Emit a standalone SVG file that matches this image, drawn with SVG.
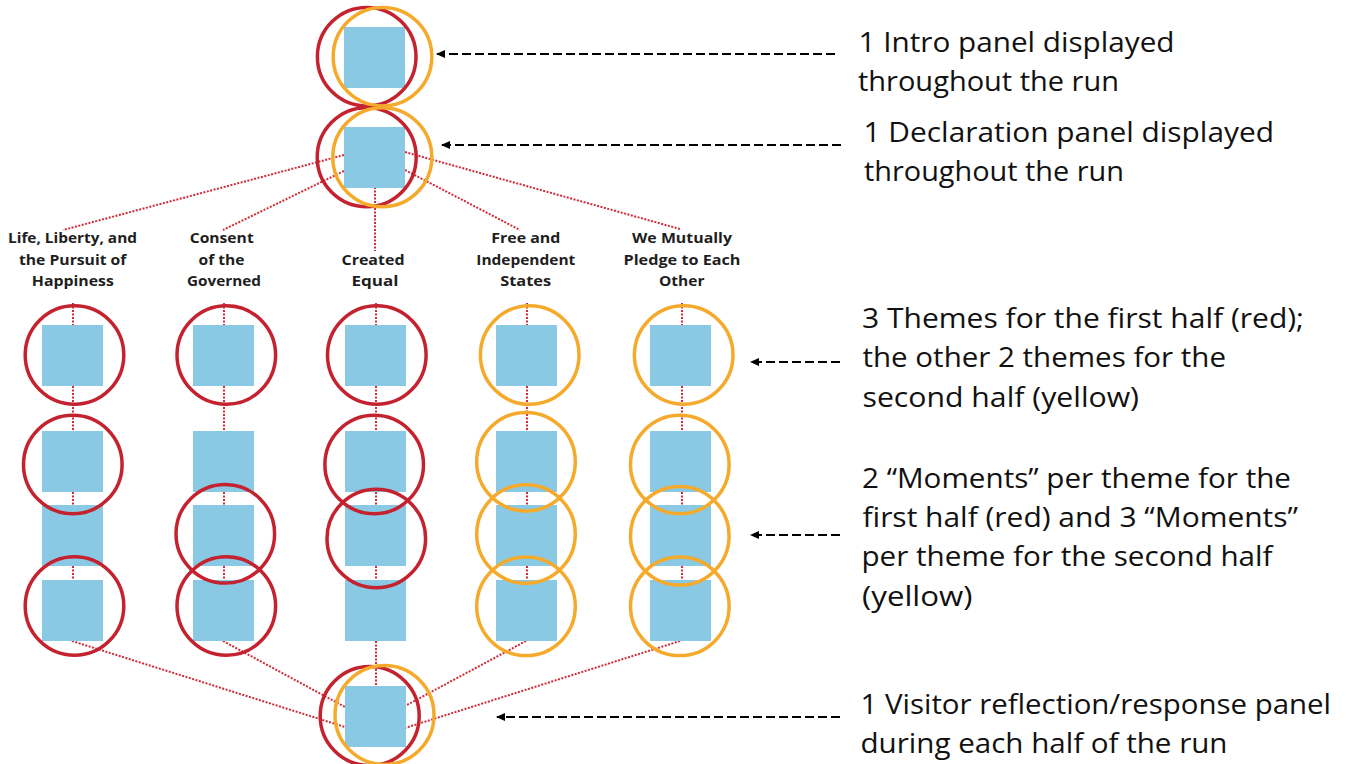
<svg xmlns="http://www.w3.org/2000/svg" width="1357" height="764" viewBox="0 0 1357 764">
<style>
.bg{fill:#ffffff}
.sq{fill:#89c9e3}
.cr{fill:none;stroke:#c5222f;stroke-width:3.5}
.co{fill:none;stroke:#f5aa2c;stroke-width:3.5}
.dot{fill:none;stroke:#d22a36;stroke-width:2;stroke-dasharray:2 1.5}
.arr{fill:none;stroke:#000;stroke-width:2;stroke-dasharray:9 4}
.lbl{font-family:"Open Sans","Liberation Sans",sans-serif;font-weight:700;font-size:15px;fill:#1e1e1e;text-anchor:middle}
.ann{font-family:"Open Sans","Liberation Sans",sans-serif;font-size:27.5px;fill:#111}
</style>
<defs>
<marker id="ah" markerUnits="userSpaceOnUse" markerWidth="10" markerHeight="10" refX="8" refY="5" orient="auto">
<path d="M0,1 L9,5 L0,9 z" fill="#000"/>
</marker>
</defs>
<rect class="bg" x="0" y="0" width="1357" height="764"/>

<g id="connectors">
<line class="dot" x1="344" y1="155" x2="63" y2="230"/>
<line class="dot" x1="344" y1="171" x2="223" y2="230"/>
<line class="dot" x1="405" y1="152" x2="680" y2="229"/>
<line class="dot" x1="405" y1="170" x2="520" y2="230"/>
<line class="dot" x1="375" y1="187" x2="375" y2="251"/>
<line class="dot" x1="73" y1="303" x2="73" y2="325"/>
<line class="dot" x1="73" y1="386" x2="73" y2="431"/>
<line class="dot" x1="73" y1="492" x2="73" y2="505"/>
<line class="dot" x1="73" y1="566" x2="73" y2="580"/>
<line class="dot" x1="224" y1="303" x2="224" y2="325"/>
<line class="dot" x1="224" y1="386" x2="224" y2="431"/>
<line class="dot" x1="224" y1="492" x2="224" y2="505"/>
<line class="dot" x1="224" y1="566" x2="224" y2="580"/>
<line class="dot" x1="376" y1="303" x2="376" y2="325"/>
<line class="dot" x1="376" y1="386" x2="376" y2="431"/>
<line class="dot" x1="376" y1="492" x2="376" y2="505"/>
<line class="dot" x1="376" y1="566" x2="376" y2="580"/>
<line class="dot" x1="376" y1="641" x2="376" y2="686"/>
<line class="dot" x1="527" y1="303" x2="527" y2="325"/>
<line class="dot" x1="527" y1="386" x2="527" y2="431"/>
<line class="dot" x1="527" y1="492" x2="527" y2="505"/>
<line class="dot" x1="527" y1="566" x2="527" y2="580"/>
<line class="dot" x1="682" y1="303" x2="682" y2="325"/>
<line class="dot" x1="682" y1="386" x2="682" y2="431"/>
<line class="dot" x1="682" y1="492" x2="682" y2="505"/>
<line class="dot" x1="682" y1="566" x2="682" y2="580"/>
<line class="dot" x1="72" y1="641" x2="345" y2="727"/>
<line class="dot" x1="223" y1="641" x2="345" y2="707"/>
<line class="dot" x1="526" y1="641" x2="405" y2="706"/>
<line class="dot" x1="680" y1="641" x2="405" y2="728"/>
<line class="arr" x1="835" y1="54" x2="437" y2="54" marker-end="url(#ah)"/>
<line class="arr" x1="841" y1="145" x2="442" y2="145" marker-end="url(#ah)"/>
<line class="arr" x1="840" y1="362" x2="751" y2="362" marker-end="url(#ah)"/>
<line class="arr" x1="840" y1="535" x2="751" y2="535" marker-end="url(#ah)"/>
<line class="arr" x1="840" y1="717" x2="497" y2="717" marker-end="url(#ah)"/>
</g>

<g id="intro-panel">
<rect class="sq" x="344" y="27" width="61" height="61"/>
<circle class="cr" cx="366.7" cy="56.7" r="49.3"/>
<circle class="co" cx="382.5" cy="56.7" r="49.3"/>
</g>

<g id="declaration-panel">
<rect class="sq" x="344" y="127" width="61" height="61"/>
<circle class="cr" cx="366.7" cy="157.3" r="49.5"/>
<circle class="co" cx="382.3" cy="157.3" r="49.5"/>
</g>

<g id="theme-labels">
<text class="lbl" x="72.5" y="243" textLength="129" lengthAdjust="spacingAndGlyphs">Life, Liberty, and</text>
<text class="lbl" x="72.7" y="264.5" textLength="107.5" lengthAdjust="spacingAndGlyphs">the Pursuit of</text>
<text class="lbl" x="72.8" y="286" textLength="82" lengthAdjust="spacingAndGlyphs">Happiness</text>
<text class="lbl" x="221.7" y="243" textLength="64" lengthAdjust="spacingAndGlyphs">Consent</text>
<text class="lbl" x="221.5" y="264.5" textLength="46" lengthAdjust="spacingAndGlyphs">of the</text>
<text class="lbl" x="224" y="286" textLength="74" lengthAdjust="spacingAndGlyphs">Governed</text>
<text class="lbl" x="373" y="264.5" textLength="63" lengthAdjust="spacingAndGlyphs">Created</text>
<text class="lbl" x="375" y="286" textLength="47" lengthAdjust="spacingAndGlyphs">Equal</text>
<text class="lbl" x="525.8" y="243" textLength="69" lengthAdjust="spacingAndGlyphs">Free and</text>
<text class="lbl" x="525.8" y="264.5" textLength="99" lengthAdjust="spacingAndGlyphs">Independent</text>
<text class="lbl" x="525.7" y="286" textLength="51" lengthAdjust="spacingAndGlyphs">States</text>
<text class="lbl" x="682" y="243" textLength="100" lengthAdjust="spacingAndGlyphs">We Mutually</text>
<text class="lbl" x="682" y="264.5" textLength="117" lengthAdjust="spacingAndGlyphs">Pledge to Each</text>
<text class="lbl" x="681.7" y="286" textLength="45.5" lengthAdjust="spacingAndGlyphs">Other</text>
</g>

<g id="theme-life">
<rect class="sq" x="42" y="325" width="61" height="61"/>
<rect class="sq" x="42" y="431" width="61" height="61"/>
<rect class="sq" x="42" y="505" width="61" height="61"/>
<rect class="sq" x="42" y="580" width="61" height="61"/>
<circle class="cr" cx="74.5" cy="355" r="49.3"/>
<circle class="cr" cx="72.8" cy="464.5" r="49.3"/>
<circle class="cr" cx="74.5" cy="606" r="49.3"/>
</g>

<g id="theme-consent">
<rect class="sq" x="193" y="325" width="61" height="61"/>
<rect class="sq" x="193" y="431" width="61" height="61"/>
<rect class="sq" x="193" y="505" width="61" height="61"/>
<rect class="sq" x="193" y="580" width="61" height="61"/>
<circle class="cr" cx="226.3" cy="355" r="49.3"/>
<circle class="cr" cx="225.3" cy="533.8" r="49.3"/>
<circle class="cr" cx="226.3" cy="606" r="49.3"/>
</g>

<g id="theme-created">
<rect class="sq" x="345" y="325" width="61" height="61"/>
<rect class="sq" x="345" y="431" width="61" height="61"/>
<rect class="sq" x="345" y="505" width="61" height="61"/>
<rect class="sq" x="345" y="580" width="61" height="61"/>
<circle class="cr" cx="376.8" cy="355" r="49.3"/>
<circle class="cr" cx="374.2" cy="464.5" r="49.3"/>
<circle class="cr" cx="376.3" cy="538.5" r="49.3"/>
</g>

<g id="theme-free">
<rect class="sq" x="496" y="325" width="61" height="61"/>
<rect class="sq" x="496" y="431" width="61" height="61"/>
<rect class="sq" x="496" y="505" width="61" height="61"/>
<rect class="sq" x="496" y="580" width="61" height="61"/>
<circle class="co" cx="529.7" cy="355" r="49.3"/>
<circle class="co" cx="526" cy="461.7" r="49.3"/>
<circle class="co" cx="526" cy="534" r="49.3"/>
<circle class="co" cx="526" cy="606.3" r="49.3"/>
</g>

<g id="theme-pledge">
<rect class="sq" x="650" y="325" width="61" height="61"/>
<rect class="sq" x="650" y="431" width="61" height="61"/>
<rect class="sq" x="650" y="505" width="61" height="61"/>
<rect class="sq" x="650" y="580" width="61" height="61"/>
<circle class="co" cx="683.7" cy="355" r="49.3"/>
<circle class="co" cx="679.8" cy="464.5" r="49.3"/>
<circle class="co" cx="679.8" cy="535.8" r="49.3"/>
<circle class="co" cx="679.8" cy="606.3" r="49.3"/>
</g>

<g id="reflection-panel">
<rect class="sq" x="345" y="686" width="61" height="61"/>
<circle class="cr" cx="369.7" cy="716" r="49.5"/>
<circle class="co" cx="384.5" cy="715" r="49.5"/>
</g>

<g id="annotations">
<text class="ann" x="858.5" y="51.5" textLength="316" lengthAdjust="spacingAndGlyphs">1 Intro panel displayed</text>
<text class="ann" x="858" y="91" textLength="261" lengthAdjust="spacingAndGlyphs">throughout the run</text>
<text class="ann" x="863.5" y="141.5" textLength="410.5" lengthAdjust="spacingAndGlyphs">1 Declaration panel displayed</text>
<text class="ann" x="864" y="180.5" textLength="260" lengthAdjust="spacingAndGlyphs">throughout the run</text>
<text class="ann" x="862" y="327.5" textLength="442" lengthAdjust="spacingAndGlyphs">3 Themes for the first half (red);</text>
<text class="ann" x="862.5" y="367" textLength="363.5" lengthAdjust="spacingAndGlyphs">the other 2 themes for the</text>
<text class="ann" x="862.5" y="406.5" textLength="276.5" lengthAdjust="spacingAndGlyphs">second half (yellow)</text>
<text class="ann" x="862" y="487.5" textLength="429" lengthAdjust="spacingAndGlyphs">2 “Moments” per theme for the</text>
<text class="ann" x="862.5" y="527" textLength="435.5" lengthAdjust="spacingAndGlyphs">first half (red) and 3 “Moments”</text>
<text class="ann" x="861.5" y="566" textLength="411" lengthAdjust="spacingAndGlyphs">per theme for the second half</text>
<text class="ann" x="862" y="605.5" textLength="110.5" lengthAdjust="spacingAndGlyphs">(yellow)</text>
<text class="ann" x="860.5" y="713.5" textLength="470.5" lengthAdjust="spacingAndGlyphs">1 Visitor reflection/response panel</text>
<text class="ann" x="860.5" y="753" textLength="367" lengthAdjust="spacingAndGlyphs">during each half of the run</text>
</g>
</svg>
